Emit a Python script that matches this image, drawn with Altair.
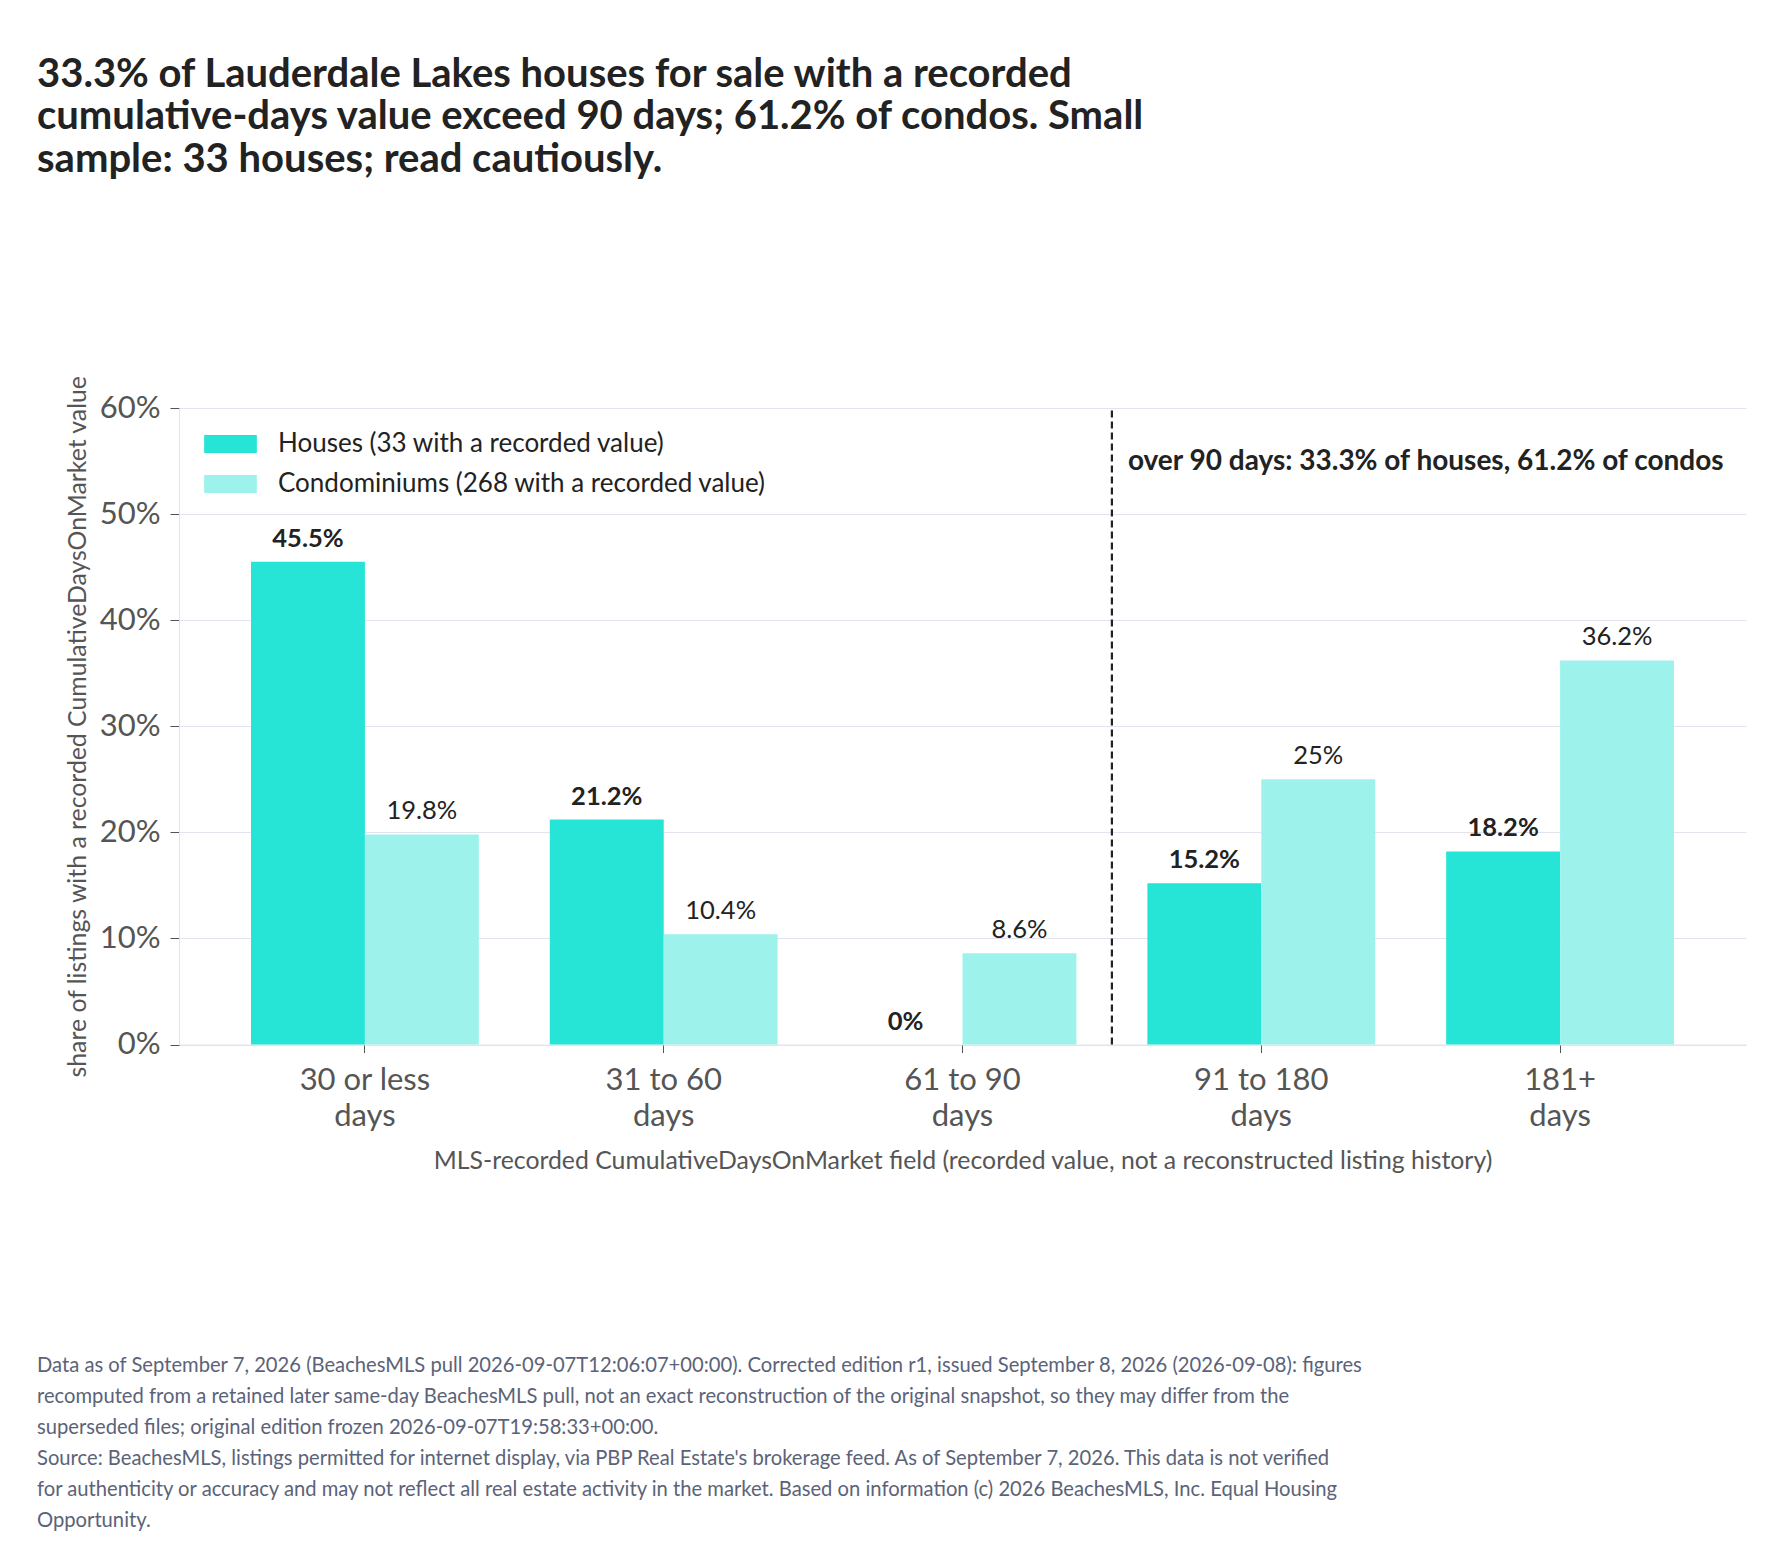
import altair as alt
import pandas as pd

categories = ["30 or less days", "31 to 60 days", "61 to 90 days", "91 to 180 days", "181+ days"]
series = ["Houses (33 with a recorded value)", "Condominiums (268 with a recorded value)"]
houses = [0.455, 0.212, 0.0, 0.152, 0.182]
condos = [0.198, 0.104, 0.086, 0.25, 0.362]
colors = ["#26e5d6", "#9df3ec"]

title_lines = [
    "33.3% of Lauderdale Lakes houses for sale with a recorded",
    "cumulative-days value exceed 90 days; 61.2% of condos. Small",
    "sample: 33 houses; read cautiously.",
]
footer_lines = [
    "Data as of September 7, 2026 (BeachesMLS pull 2026-09-07T12:06:07+00:00). Corrected edition r1, issued September 8, 2026 (2026-09-08): figures",
    "recomputed from a retained later same-day BeachesMLS pull, not an exact reconstruction of the original snapshot, so they may differ from the",
    "superseded files; original edition frozen 2026-09-07T19:58:33+00:00.",
    "Source: BeachesMLS, listings permitted for internet display, via PBP Real Estate's brokerage feed. As of September 7, 2026. This data is not verified",
    "for authenticity or accuracy and may not reflect all real estate activity in the market. Based on information (c) 2026 BeachesMLS, Inc. Equal Housing",
    "Opportunity.",
]
annotation = "over 90 days: 33.3% of houses, 61.2% of condos"
divider_after = "61 to 90 days"

FONT = "Lato"
W, H = 1567, 636.5
PI, PO = 0.2375, 0.241
STEP = W / (len(categories) - PI + 2 * PO)
GAP_HALF = PI * STEP / 2

rows = []
for c, h, k in zip(categories, houses, condos):
    rows.append({"cat": c, "series": series[0], "value": h})
    rows.append({"cat": c, "series": series[1], "value": k})
df = pd.DataFrame(rows)

x_enc = alt.X(
    "cat:N",
    sort=categories,
    scale=alt.Scale(paddingInner=PI, paddingOuter=PO),
    axis=alt.Axis(
        title="MLS-recorded CumulativeDaysOnMarket field (recorded value, not a reconstructed listing history)",
        labelAngle=0,
        labelExpr="[replace(datum.label, ' days', ''), 'days']",
        labelFontSize=31,
        labelLineHeight=36,
        labelColor="#555555",
        labelPadding=13,
        tickSize=8,
        tickColor="#555555",
        domainColor="#e3e3ef",
        titleFontSize=24.8,
        titleFontWeight="normal",
        titleColor="#555555",
        titlePadding=17,
    ),
)
y_scale = alt.Scale(domain=[0, 0.6])
y_enc = alt.Y(
    "value:Q",
    scale=y_scale,
    axis=alt.Axis(
        title="share of listings with a recorded CumulativeDaysOnMarket value",
        values=[0, 0.1, 0.2, 0.3, 0.4, 0.5, 0.6],
        format=".0%",
        labelFontSize=31,
        labelColor="#555555",
        labelPadding=10,
        tickSize=9,
        tickColor="#555555",
        domainColor="#e3e3ef",
        gridColor="#e3e3ef",
        titleFontSize=24.8,
        titleFontWeight="normal",
        titleColor="#555555",
        titlePadding=9,
    ),
)
xo = alt.XOffset("series:N", sort=series, scale=alt.Scale(domain=series, paddingInner=0, paddingOuter=0))

base = alt.Chart(df)

bars = base.mark_bar().encode(
    x=x_enc,
    xOffset=xo,
    y=y_enc,
    color=alt.Color(
        "series:N",
        sort=series,
        scale=alt.Scale(domain=series, range=colors),
        legend=alt.Legend(
            title=None,
            orient="none",
            legendX=25,
            legendY=9.5,
            symbolType="M-1,-0.345L1,-0.345L1,0.345L-1,0.345Z",
            symbolSize=2777,
            symbolStrokeWidth=0,
            symbolOpacity=1,
            labelFontSize=26,
            labelColor="#222222",
            labelOffset=21,
            rowPadding=-13,
            padding=0,
            labelLimit=800,
        ),
    ),
)

lab_h = base.transform_filter(alt.datum.series == series[0]).mark_text(
    font=FONT, fontSize=25.5, fontWeight="bold", color="#222222", dy=-15, baseline="alphabetic"
).encode(x=alt.X("cat:N", sort=categories), xOffset=xo, y=alt.Y("value:Q"), text=alt.Text("value:Q", format=".1~%"))

lab_c = base.transform_filter(alt.datum.series == series[1]).mark_text(
    font=FONT, fontSize=25.5, fontWeight="normal", color="#222222", dy=-15, baseline="alphabetic"
).encode(x=alt.X("cat:N", sort=categories), xOffset=xo, y=alt.Y("value:Q"), text=alt.Text("value:Q", format=".1~%"))

div_df = pd.DataFrame({"cat": [divider_after], "note": [annotation]})

rule = alt.Chart(div_df).mark_rule(color="#222222", strokeWidth=2.2, strokeDash=[7, 4], xOffset=GAP_HALF).encode(
    x=alt.X("cat:N", sort=categories, bandPosition=1),
    y=alt.datum(0),
    y2=alt.datum(0.6),
)

note = alt.Chart(div_df).mark_text(
    font=FONT, fontSize=28, fontWeight="bold", color="#222222", align="left", baseline="alphabetic", dx=16 + GAP_HALF
).encode(
    x=alt.X("cat:N", sort=categories, bandPosition=1),
    y=alt.datum(0.542),
    text="note:N",
)

footer = alt.Chart(pd.DataFrame({"t": [0]})).mark_text(
    font=FONT, fontSize=20.2, color="#5b6378", align="left", baseline="top", lineHeight=31
).encode(
    x=alt.value(-142),
    y=alt.value(948),
    text=alt.value(footer_lines),
)

chart = alt.layer(bars, lab_h, lab_c, rule, note, footer).properties(
    width=W,
    height=H,
    padding={"left": 29, "top": 46, "right": 5, "bottom": 5},
    title=alt.TitleParams(
        text=title_lines,
        anchor="start",
        frame="group",
        dx=-142,
        fontSize=40,
        lineHeight=42.5,
        fontWeight="bold",
        color="#222222",
        font=FONT,
        offset=195,
    ),
).configure(font=FONT).configure_view(stroke=None)

chart.save("out.html", embed_options={"renderer": "svg", "actions": False})
